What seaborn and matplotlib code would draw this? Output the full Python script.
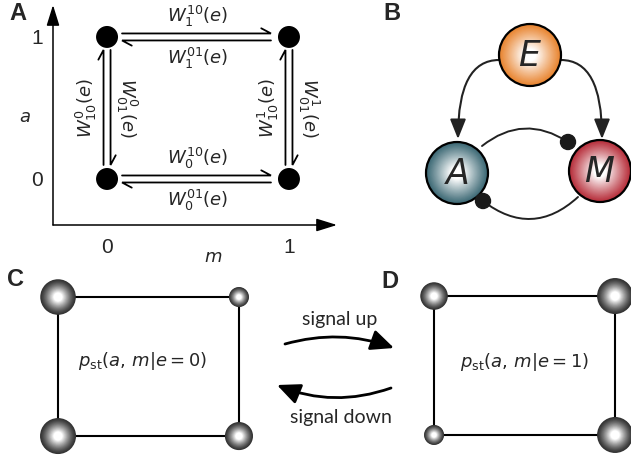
import numpy as np
import pandas as pd
import matplotlib
matplotlib.use("Agg")
import matplotlib.pyplot as plt
import seaborn as sns
from matplotlib.patches import Circle, FancyArrowPatch
from matplotlib.colors import to_rgb

# network states, ordered (m, a): TL, TR, BL, BR
state_m = [0, 1, 0, 1]
state_a = [1, 1, 0, 0]

# transition rate labels (forward, backward) for panel A
rates_h = {1: ("$W_1^{10}(e)$", "$W_1^{01}(e)$"),
           0: ("$W_0^{10}(e)$", "$W_0^{01}(e)$")}
rates_v = {0: ("$W_{10}^{0}(e)$", "$W_{01}^{0}(e)$"),
           1: ("$W_{10}^{1}(e)$", "$W_{01}^{1}(e)$")}

# stationary distributions for panels C (e=0) and D (e=1)
p_signal_off = [0.36, 0.07, 0.37, 0.20]
p_signal_on = [0.19, 0.37, 0.07, 0.37]

# interaction network of panel B
b_names = ["E", "A", "M"]
b_colors = ["#e8842f", "#3b6874", "#b72e3a"]

sns.set_style("white")
plt.rcParams["font.family"] = ["Liberation Sans", "DejaVu Sans"]
plt.rcParams["mathtext.fontset"] = "dejavusans"

W, H = 631, 459
fig = plt.figure(figsize=(W / 100, H / 100), dpi=100)


def px_axes(L, T, R, B):
    ax = fig.add_axes([L / W, 1 - B / H, (R - L) / W, (B - T) / H])
    ax.patch.set_alpha(0)
    return ax


def shade(f, core=0.25, power=1.3):
    # white share of a layer at radius fraction f (1 = rim, 0 = centre)
    return min(1.0, (1 - f) / (1 - core)) ** power


bg = px_axes(0, 0, W, H)
bg.set_xlim(0, W)
bg.set_ylim(H, 0)
bg.axis("off")

for lab, (x, y) in zip("ABCD", [(18, 14), (392, 14), (16, 280), (390, 281)]):
    bg.text(x, y, lab, fontsize=17, fontweight="bold", ha="center", va="center")

# ---------------- panel A ----------------
axA = px_axes(53, 5, 337, 225)
df_a = pd.DataFrame({"m": state_m, "a": state_a})
sns.scatterplot(data=df_a, x="m", y="a", ax=axA, s=250, color="k",
                edgecolor="none", legend=False, zorder=3)
axA.set_xlim(-0.297, 1.264)
axA.set_ylim(-0.324, 1.225)
for s in axA.spines.values():
    s.set_visible(False)
arrow_kw = dict(arrowstyle="-|>,head_length=0.9,head_width=0.28", lw=1.1,
                color="k", mutation_scale=14, shrinkA=0, shrinkB=0)
axA.annotate("", xy=(0, 1), xytext=(0, 0), xycoords="axes fraction", arrowprops=arrow_kw)
axA.annotate("", xy=(1, 0), xytext=(0, 0), xycoords="axes fraction", arrowprops=arrow_kw)
axA.set_xticks([0, 1])
axA.set_yticks([0, 1])
axA.tick_params(direction="in", length=6, width=1.1, labelsize=15, pad=7)
axA.tick_params(axis="x", pad=9)
axA.set_xlabel("$m$", fontsize=13)
axA.set_ylabel("$a$", fontsize=13, rotation=0)
axA.xaxis.set_label_coords(0.563, -0.15)
axA.yaxis.set_label_coords(-0.099, 0.49)
axA.xaxis.label.set_va("center")
axA.yaxis.label.set_va("center")


def harpoon(ax, p0, p1, gap0, gap1, offset=3.5, L=11, th=np.radians(28)):
    T = ax.transData
    P0, P1 = T.transform(p0), T.transform(p1)
    u = (P1 - P0) / np.linalg.norm(P1 - P0)
    n = np.array([-u[1], u[0]])
    s = P0 + u * gap0 + n * offset
    e = P1 - u * gap1 + n * offset
    barb = e - u * L * np.cos(th) + n * L * np.sin(th)
    pts = T.inverted().transform(np.vstack([s, e, barb]))
    ax.plot(pts[:, 0], pts[:, 1], color="k", lw=1.3, solid_joinstyle="miter")


for a, (fw, bw) in rates_h.items():
    harpoon(axA, (0, a), (1, a), 15, 18)
    harpoon(axA, (1, a), (0, a), 18, 15)
    axA.annotate(fw, (0.5, a), xytext=(0, 21), textcoords="offset pixels",
                 ha="center", va="center", fontsize=13)
    axA.annotate(bw, (0.5, a), xytext=(0, -21), textcoords="offset pixels",
                 ha="center", va="center", fontsize=13)

for m, (up, down) in rates_v.items():
    harpoon(axA, (m, 0), (m, 1), 14, 13)
    harpoon(axA, (m, 1), (m, 0), 13, 14)
    axA.annotate(up, (m, 0.5), xytext=(-21, 0), textcoords="offset pixels",
                 ha="center", va="center", fontsize=13, rotation=90)
    axA.annotate(down, (m, 0.5), xytext=(20, 0), textcoords="offset pixels",
                 ha="center", va="center", fontsize=13, rotation=270)

# ---------------- panel B ----------------
def draw_ball(ax, x, y, r, color, n=40):
    base = np.array(to_rgb(color))
    for k in range(n):
        f = 1 - k / n
        w = shade(f, core=0.2, power=1.1)
        ax.add_patch(Circle((x, y), r * f, color=base * (1 - w) + w, lw=0, zorder=3))
    ax.add_patch(Circle((x, y), r, fill=False, lw=1.6, ec="k", zorder=4))


b_pos = [(530, 55), (457, 173), (600, 171)]
for name, col, (x, y) in zip(b_names, b_colors, b_pos):
    draw_ball(bg, x, y, 31, col)
    bg.text(x, y + 1, f"${name}$", fontsize=25, ha="center", va="center", zorder=5)

head = "-|>,head_length=0.75,head_width=0.3"
for start, end in [((499, 60), (458, 139)), ((561, 60), (602, 139))]:
    bg.add_patch(FancyArrowPatch(start, end, connectionstyle="angle3,angleA=180,angleB=90",
                                 arrowstyle=head, mutation_scale=16, lw=1.5, color="#222222",
                                 shrinkA=0, shrinkB=0, zorder=2))
for start, end, rad in [((482, 146), (568, 142), -0.36), ((578, 197), (483, 201), -0.42)]:
    bg.add_patch(FancyArrowPatch(start, end, connectionstyle=f"arc3,rad={rad}",
                                 arrowstyle="-", lw=1.4, color="#222222",
                                 shrinkA=0, shrinkB=0, zorder=2))
    bg.add_patch(Circle(end, 7.5, color="#1a1a1a", zorder=5))

# ---------------- signal arrows ----------------
bg.text(340, 320, "signal up", fontsize=14, family=["Lato", "DejaVu Sans"], ha="center", va="center")
bg.text(341, 418, "signal down", fontsize=14, family=["Lato", "DejaVu Sans"], ha="center", va="center")
big_head = "-|>,head_length=1.0,head_width=0.45"
bg.add_patch(FancyArrowPatch((285, 344), (394, 348), connectionstyle="arc3,rad=-0.16",
                             arrowstyle=big_head, mutation_scale=14, lw=2.0, color="k",
                             shrinkA=0, shrinkB=0))
bg.add_patch(FancyArrowPatch((391, 388), (277, 385), connectionstyle="arc3,rad=-0.19",
                             arrowstyle=big_head, mutation_scale=14, lw=2.0, color="k",
                             shrinkA=0, shrinkB=0))

# ---------------- panels C and D ----------------
size_range = (207, 671)
size_norm = (0.07, 0.37)


def draw_state(ax, probs, label, tx, ty, n=24):
    df = pd.DataFrame({"m": state_m, "a": state_a, "p": probs})
    loop = [0, 1, 3, 2, 0]
    ax.plot(df["m"].iloc[loop], df["a"].iloc[loop], color="k", lw=1.5, zorder=1)
    sns.scatterplot(data=df, x="m", y="a", size="p", sizes=size_range, size_norm=size_norm,
                    color="#333333", edgecolor="none", legend=False, ax=ax, zorder=2,
                    clip_on=False)
    s = size_range[0] + (df["p"] - size_norm[0]) / (size_norm[1] - size_norm[0]) * (
        size_range[1] - size_range[0])
    dark = np.array(to_rgb("#333333"))
    for k in range(1, n):
        f = 1 - k / n
        w = shade(f)
        ax.scatter(df["m"], df["a"], s=s * f ** 2, color=dark * (1 - w) + w,
                   linewidths=0, zorder=2 + k, clip_on=False)
    ax.text(tx, ty, label, ha="center", va="center", fontsize=13)
    ax.axis("off")


axC = px_axes(28, 272, 269, 459)
draw_state(axC, p_signal_off, r"$p_{\mathrm{st}}(a,\, m|e=0)$", 0.47, 0.54)
axC.set_xlim(-0.166, 1.166)
axC.set_ylim(-0.165, 1.18)

axD = px_axes(404, 272, 631, 459)
draw_state(axD, p_signal_on, r"$p_{\mathrm{st}}(a,\, m|e=1)$", 0.503, 0.525)
axD.set_xlim(-0.166, 1.088)
axD.set_ylim(-0.173, 1.173)

fig.savefig("out.png", dpi=100)
